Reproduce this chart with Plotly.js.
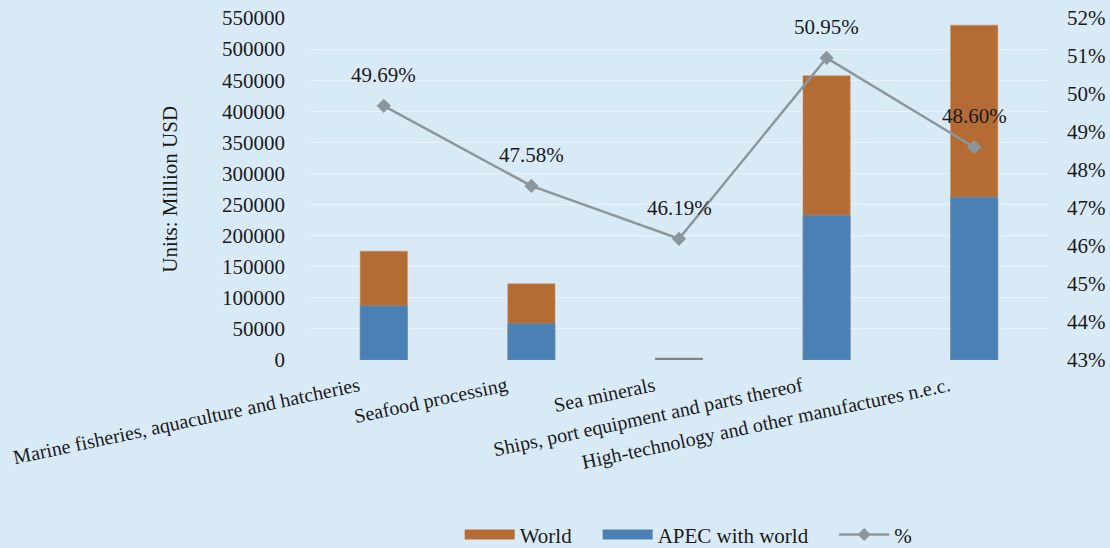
<!DOCTYPE html>
<html>
<head>
<meta charset="utf-8">
<script src="https://cdn.plot.ly/plotly-3.0.1.min.js"></script>
<style>
  html, body { margin: 0; padding: 0; background: #d9eaf7; overflow: hidden; }
  #chart { width: 1110px; height: 548px; }
</style>
</head>
<body>
<div id="chart"></div>
<script>
// Marine-related trade by sector (Million USD) and APEC share of world
const categories = [
  "Marine fisheries, aquaculture and hatcheries",
  "Seafood processing",
  "Sea minerals",
  "Ships, port equipment and parts thereof",
  "High-technology and other manufactures n.e.c."
];
const worldValues = [175000, 122500, 3400, 457000, 538500];
const apecValues = [87000, 58300, 1600, 232800, 261700];
const sharePercent = [49.69, 47.58, 46.19, 50.95, 48.60];
const shareLabels = ["49.69%", "47.58%", "46.19%", "50.95%", "48.60%"];

const serif = "Times New Roman, Liberation Serif, Tinos, DejaVu Serif, serif";
const orange = "#b46c34";
const blue = "#4a80b3";
const grey = "#8b979d";
const pad = "\u00a0\u00a0\u00a0\u00a0";

const traces = [
  {
    type: "bar",
    name: "World",
    x: categories,
    y: worldValues,
    width: 0.32,
    showlegend: false,
    marker: { color: orange, line: { color: "#c98a5a", width: 0.5 } },
    hoverinfo: "y"
  },
  {
    type: "bar",
    name: "APEC with world",
    x: categories,
    y: apecValues,
    width: 0.32,
    showlegend: false,
    marker: { color: blue, line: { color: "#6a9ac6", width: 0.5 } },
    hoverinfo: "y"
  },
  {
    type: "scatter",
    mode: "lines+markers",
    name: "%",
    x: categories,
    y: sharePercent,
    yaxis: "y2",
    showlegend: false,
    line: { color: grey, width: 2.5 },
    marker: { symbol: "diamond", size: 11, color: grey }
  },
  // legend keys: wide colour strips for the bars, line with diamond for the share
  {
    type: "scatter", mode: "lines", name: "World" + pad,
    x: [null], y: [null], legendrank: 1,
    line: { color: orange, width: 10 }
  },
  {
    type: "scatter", mode: "lines", name: "APEC with world" + pad,
    x: [null], y: [null], legendrank: 2,
    line: { color: blue, width: 10 }
  },
  {
    type: "scatter", mode: "lines+markers", name: "%",
    x: [null], y: [null], yaxis: "y2", legendrank: 3,
    line: { color: grey, width: 2.5 },
    marker: { symbol: "diamond", size: 10, color: grey }
  }
];

// value labels above each share point
const shareAnnotations = categories.map((c, i) => ({
  x: c,
  y: sharePercent[i],
  xref: "x",
  yref: "y2",
  text: shareLabels[i],
  showarrow: false,
  yshift: 31,
  font: { family: serif, size: 21, color: "#1a1a1a" }
}));

const layout = {
  width: 1110,
  height: 548,
  paper_bgcolor: "#d9eaf7",
  plot_bgcolor: "#d9eaf7",
  margin: { l: 310, r: 62, t: 18, b: 188 },
  barmode: "overlay",
  font: { family: serif, size: 20, color: "#1a1a1a" },
  showlegend: true,
  legend: {
    orientation: "h",
    xref: "container",
    yref: "container",
    x: 0.62,
    xanchor: "center",
    y: 0.024,
    yanchor: "middle",
    font: { family: serif, size: 21, color: "#1a1a1a" },
    bgcolor: "rgba(0,0,0,0)",
    itemwidth: 50,
    tracegroupgap: 0
  },
  xaxis: {
    type: "category",
    range: [-0.5, 4.5],
    tickangle: -12,
    ticks: "",
    ticklabelstandoff: 10,
    ticklabelshift: -25,
    showgrid: false,
    zeroline: false,
    showline: false,
    tickfont: { family: serif, size: 20, color: "#1a1a1a" },
    automargin: false
  },
  yaxis: {
    range: [0, 550000],
    dtick: 50000,
    tickformat: "d",
    ticks: "",
    ticklabelstandoff: 24,
    showgrid: true,
    gridcolor: "rgba(255,255,255,0.45)",
    gridwidth: 1,
    zeroline: false,
    showline: false,
    tickfont: { family: serif, size: 21, color: "#1a1a1a" },
    automargin: false
  },
  yaxis2: {
    overlaying: "y",
    side: "right",
    range: [43, 52],
    dtick: 1,
    ticksuffix: "%",
    ticks: "",
    ticklabelstandoff: 18,
    showgrid: false,
    zeroline: false,
    showline: false,
    tickfont: { family: serif, size: 21, color: "#1a1a1a" },
    automargin: false
  },
  annotations: [
    {
      text: "Units: Million USD",
      xref: "paper",
      yref: "paper",
      x: -0.19,
      y: 0.5,
      xanchor: "center",
      yanchor: "middle",
      textangle: -90,
      showarrow: false,
      font: { family: serif, size: 21, color: "#1a1a1a" }
    }
  ].concat(shareAnnotations)
};

Plotly.newPlot("chart", traces, layout, { displayModeBar: false, staticPlot: true });
</script>
</body>
</html>
